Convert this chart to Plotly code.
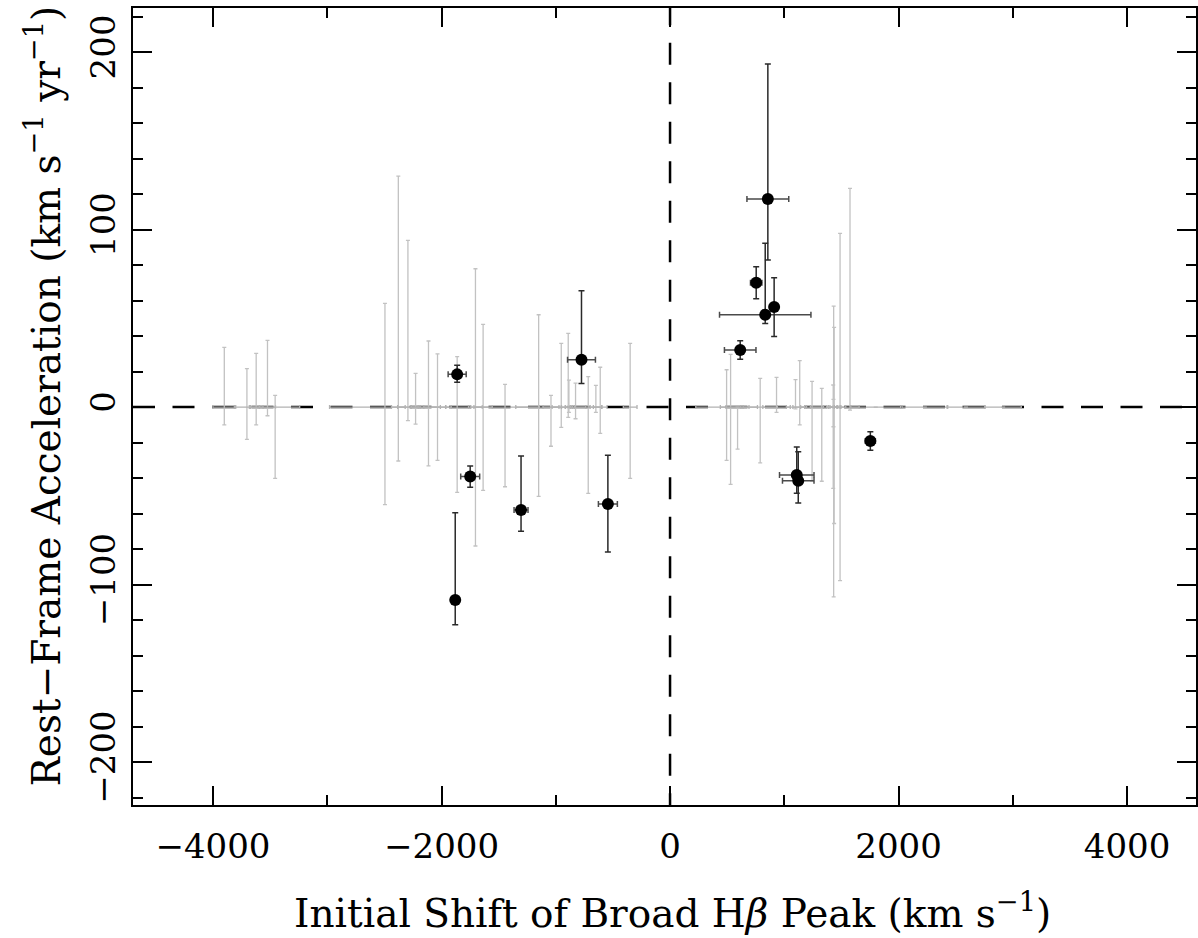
import plotly.graph_objects as go

# ---------------- data ----------------
# faint (grey) measurements centred on zero acceleration
grey_x = [-3901, -3703, -3622, -3523, -3456,
          -2495, -2378, -2294, -2227, -2114, -2035, -1863, -1703, -1636, -1444,
          -1150, -1042, -952, -891, -885, -827, -716, -649, -611, -349,
          495, 530, 591, 789, 932, 1098, 1135, 1243, 1328,
          1432, 1436, 1428, 1430, 1488, 1575,
          1800, 2230, 2590, 2915]
grey_y = [0] * len(grey_x)
grey_up = [33.6, 21.6, 30.2, 37.6, 6.6,
           58.4, 130.1, 93.9, 19.0, 37.2, 30.0, 28.4, 77.9, 46.6, 12.8,
           52.0, 6.6, 35.9, 41.5, 15.2, 13.5, 17.1, 12.2, 22.4, 35.9,
           21.0, 29.7, 0.0, 16.2, 16.7, 15.4, 26.1, 14.5, 10.5,
           56.9, 44.9, 12.4, 4.3, 97.8, 123.2,
           0, 0, 0, 0]
grey_down = [10.1, 18.2, 10.1, 4.9, 40.2,
             55.0, 30.4, 7.7, 9.6, 33.2, 30.0, 48.1, 78.3, 47.0, 44.9,
             50.3, 22.1, 11.5, 5.8, 3.0, 6.6, 48.6, 3.0, 14.8, 40.2,
             30.0, 43.6, 23.7, 31.5, 3.0, 1.0, 10.1, 41.7, 41.8,
             106.9, 65.6, 45.8, 11.1, 97.8, 1.7,
             0, 0, 0, 0]
grey_xerr = [100, 110, 60, 70, 215,
             485, 60, 90, 40, 150, 120, 100, 60, 80, 300,
             200, 70, 80, 60, 30, 90, 120, 50, 60, 60,
             270, 90, 100, 150, 120, 80, 60, 100, 100,
             60, 50, 40, 30, 50, 80,
             218, 200, 165, 159]

# significant (black) measurements
pt_x = [-1863, -1749, -775, -1880, -1304, -544,
        856, 754, 833, 911, 614, 1109, 1122, 1753]
pt_y = [18.4, -39.2, 26.7, -108.7, -58.0, -54.6,
        117.2, 70.0, 52.0, 56.3, 32.1, -38.3, -41.6, -19.2]
pt_up = [5.1, 6.0, 38.8, 49.2, 30.4, 27.4,
         76.0, 9.0, 40.2, 16.6, 5.3, 15.8, 16.4, 5.3]
pt_down = [4.5, 6.0, 13.4, 13.9, 12.0, 27.1,
           34.4, 9.0, 5.0, 16.6, 5.2, 10.3, 12.4, 5.2]
pt_xerr = [79, 83, 122, 0, 61, 83,
           183, 50, 400, 0, 138, 151, 138, 44]

x_tickvals = [-4000, -2000, 0, 2000, 4000]
y_tickvals = [-200, -100, 0, 100, 200]

FONT = "DejaVu Serif"

fig = go.Figure()

fig.add_trace(go.Scatter(
    x=grey_x, y=grey_y, mode="markers",
    marker=dict(size=1, color="rgba(0,0,0,0)"),
    error_y=dict(type="data", symmetric=False, array=grey_up, arrayminus=grey_down,
                 color="#c2c2c2", thickness=1.3, width=2),
    error_x=dict(type="data", array=grey_xerr, color="#b2b2b2", thickness=1.3, width=2),
    showlegend=False, hoverinfo="skip"))

fig.add_trace(go.Scatter(
    x=pt_x, y=pt_y, mode="markers",
    marker=dict(size=12, color="black"),
    error_y=dict(type="data", symmetric=False, array=pt_up, arrayminus=pt_down,
                 color="#2a2a2a", thickness=1.5, width=3),
    error_x=dict(type="data", array=pt_xerr, color="#4a4a4a", thickness=1.5, width=3),
    showlegend=False))

# dashed zero lines
fig.add_shape(type="line", xref="x", yref="y", x0=-4700, x1=4700, y0=0, y1=0,
              line=dict(color="black", width=2.5, dash="22px,17.5px"), layer="below")
fig.add_shape(type="line", xref="x", yref="y", x0=0, x1=0, y0=227.5, y1=-230,
              line=dict(color="black", width=2.5, dash="22px,17.5px"), layer="below")

fig.update_xaxes(range=[-4700, 4603], tickvals=x_tickvals, ticks="inside", ticklen=19,
                 tickwidth=1.5, tickcolor="black", showline=True, linewidth=2,
                 linecolor="black", mirror="ticks", showgrid=False, zeroline=False,
                 tickfont=dict(family=FONT, size=34, color="black"),
                 ticklabelstandoff=10,
                 minor=dict(dtick=1000, ticks="inside", ticklen=10, tickwidth=1.5,
                            tickcolor="black", showgrid=False))
fig.update_yaxes(range=[-224.2, 224.8], tickvals=y_tickvals, ticks="inside", ticklen=19,
                 tickwidth=1.5, tickcolor="black", showline=True, linewidth=2,
                 linecolor="black", mirror="ticks", showgrid=False, zeroline=False,
                 tickangle=-90,
                 tickfont=dict(family=FONT, size=34, color="black"),
                 ticklabelstandoff=2,
                 minor=dict(dtick=20, ticks="inside", ticklen=10, tickwidth=1.5,
                            tickcolor="black", showgrid=False))

fig.add_annotation(text="Initial Shift of Broad H<i>β</i> Peak (km s<sup>−1</sup>)",
                   xref="x", yref="paper", x=0, y=0, yshift=-106, xshift=2,
                   xanchor="center", yanchor="middle", showarrow=False,
                   font=dict(family=FONT, size=39, color="black"))
fig.add_annotation(text="Rest−Frame Acceleration (km s<sup>−1</sup> yr<sup>−1</sup>)",
                   xref="paper", yref="paper", x=0, y=0.5, xshift=-90, yshift=10,
                   textangle=-90, xanchor="center", yanchor="middle", showarrow=False,
                   font=dict(family=FONT, size=39, color="black"))

fig.update_layout(width=1198, height=938, margin=dict(l=133, r=0, t=8, b=133),
                  paper_bgcolor="white", plot_bgcolor="white")

fig.write_html("out.html")
